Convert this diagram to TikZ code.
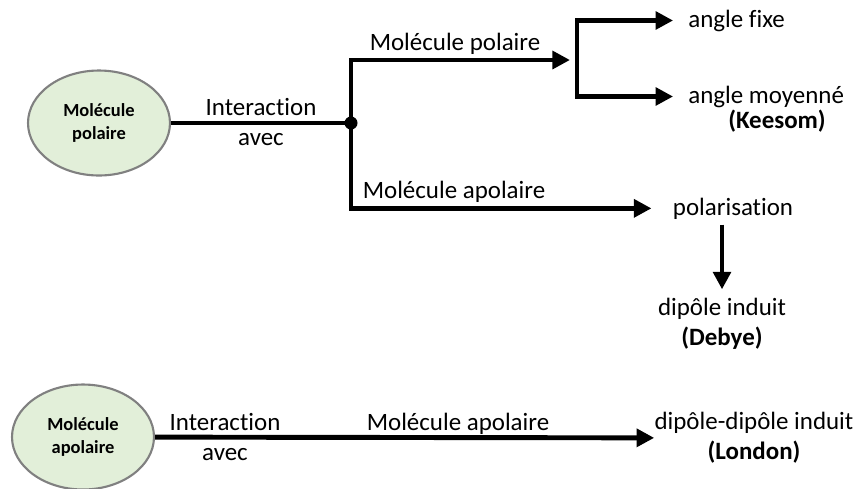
\documentclass[tikz,border=0pt]{standalone}
\usepackage{fontspec}
\setmainfont{Carlito}[Ligatures=NoCommon]
\usetikzlibrary{arrows.meta,shapes.geometric}
\definecolor{molfill}{HTML}{E2EFD9}
\definecolor{molline}{HTML}{808080}
\tikzset{
	mol/.style={ellipse, draw=molline, line width=1.2pt, fill=molfill, minimum width=2.84cm, minimum height=2.1cm, inner sep=0pt, align=center, font=\fontsize{10.5pt}{13.6pt}\selectfont\bfseries},
	txt/.style={inner sep=0pt, align=center, font=\fontsize{14.2pt}{17pt}\selectfont},
	flow/.style={line width=2.8pt, -{Triangle[length=10pt,width=10pt]}},
	link/.style={line width=2.8pt},
	junc/.style={circle, fill=black, minimum size=0.26cm, inner sep=0pt},
}
\begin{document}
\begin{tikzpicture}[x=0.02cm, y=-0.02cm]
	\useasboundingbox (0,0) rectangle (857,488);
	\node[mol] at (99,123) (mp) {Molécule\\polaire};
	\node[junc] at (351,123) (j) {};
	\node[txt] at (261,122) (ia) {Interaction\\avec};
	\coordinate (kmid) at (577,60);
	\coordinate (ka) at (577,20);
	\coordinate (kb) at (577,96);
	\node[txt, anchor=base] at (455,50) (lp) {Molécule polaire};
	\node[txt, anchor=base west] at (688,27) (fix) {angle fixe};
	\node[txt, anchor=base west] at (688,103) (moy) {angle moyenné};
	\node[txt, anchor=base] at (777,128) (kee) {\textbf{(Keesom)}};
	\node[txt, anchor=base] at (454,198) (la) {Molécule apolaire};
	\node[txt, anchor=base] at (733,215) (pol) {polarisation};
	\node[txt] at (722,324) (deb) {dipôle induit\\\textbf{(Debye)}};
	\draw[link] (mp) -- (j.center);
	\draw[flow, shorten >=4pt] (j.center) |- (kmid);
	\draw[flow, shorten >=12pt] (j.center) |- (pol);
	\draw[flow, shorten >=8.5pt] (kb) |- (fix);
	\draw[flow, shorten >=8.5pt] (ka) |- (moy);
	\draw[flow, shorten <=3pt, shorten >=5pt] (pol.south -| deb.north) -- (deb.north);
	% second case
	\node[mol] at (83,437) (ma) {Molécule\\apolaire};
	\node[txt] at (225,437) (ib) {Interaction\\avec};
	\node[txt, anchor=base] at (458,430) (lb) {Molécule apolaire};
	\node[txt] at (754,438) (lon) {dipôle-dipôle induit\\\textbf{(London)}};
	\draw[flow] (ma) -- (lon);
\end{tikzpicture}
\end{document}
